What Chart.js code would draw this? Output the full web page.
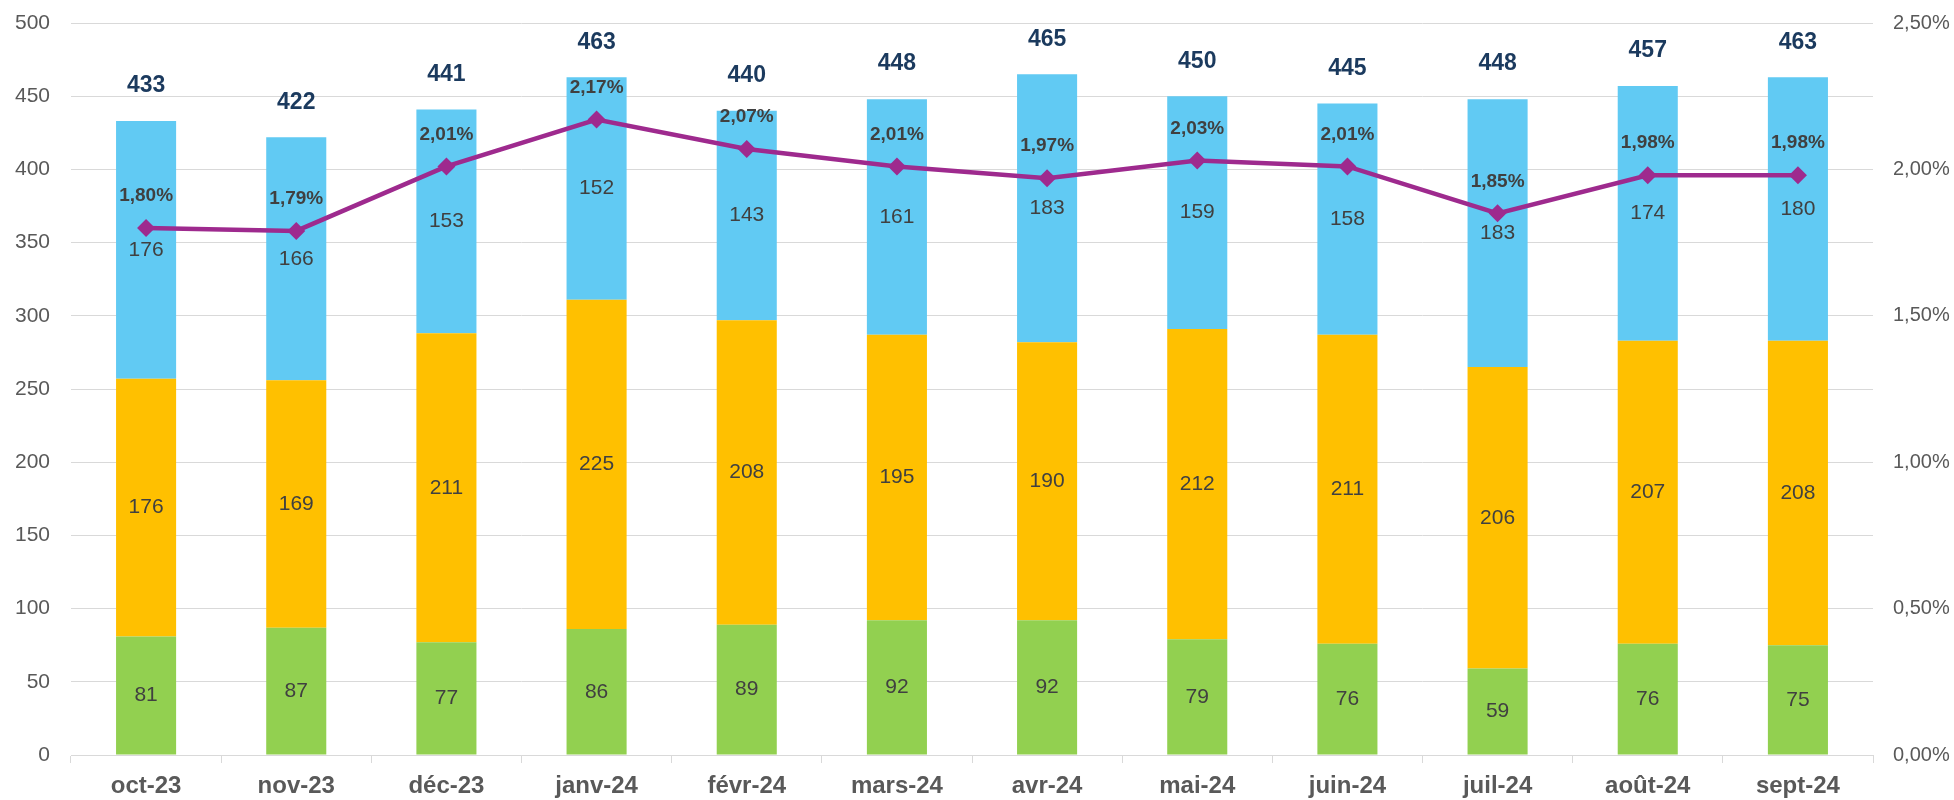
<!DOCTYPE html>
<html>
<head>
<meta charset="utf-8">
<script src="https://cdn.jsdelivr.net/npm/chart.js@4/dist/chart.umd.min.js"></script>
<style>
  body { margin: 0; background: #fff; }
</style>
</head>
<body>
<canvas id="miGrafica" width="1954" height="800"></canvas>
<script>
// Données
const mois = ['oct-23', 'nov-23', 'déc-23', 'janv-24', 'févr-24', 'mars-24', 'avr-24', 'mai-24', 'juin-24', 'juil-24', 'août-24', 'sept-24'];
const serieVerte = [81, 87, 77, 86, 89, 92, 92, 79, 76, 59, 76, 75];
const serieOrange = [176, 169, 211, 225, 208, 195, 190, 212, 211, 206, 207, 208];
const serieBleue = [176, 166, 153, 152, 143, 161, 183, 159, 158, 183, 174, 180];
const totaux = [433, 422, 441, 463, 440, 448, 465, 450, 445, 448, 457, 463];
const taux = [1.80, 1.79, 2.01, 2.17, 2.07, 2.01, 1.97, 2.03, 2.01, 1.85, 1.98, 1.98];

const police = '"Liberation Sans", Arial, sans-serif';
const transparent = 'rgba(0,0,0,0)';

function formatPct(v) {
    return v.toFixed(2).replace('.', ',') + '%';
}

function texte(ctx, str, x, y, font, couleur, align) {
    ctx.save();
    ctx.font = font;
    ctx.fillStyle = couleur;
    ctx.textAlign = align;
    ctx.textBaseline = 'middle';
    ctx.fillText(str, x, y);
    ctx.restore();
}

// Étiquettes de valeurs et libellés d'axes
const etiquettes = {
    id: 'etiquettes',
    afterDatasetsDraw(chart) {
        const ctx = chart.ctx;
        const zone = chart.chartArea;

        // valeurs au milieu de chaque segment
        [0, 1, 2].forEach(i => {
            chart.getDatasetMeta(i).data.forEach((barre, j) => {
                texte(ctx, chart.data.datasets[i].data[j], barre.x, (barre.y + barre.base) / 2,
                    '21px ' + police, '#404040', 'center');
            });
        });

        // totaux au-dessus des barres
        chart.getDatasetMeta(2).data.forEach((barre, j) => {
            texte(ctx, totaux[j], barre.x, barre.y - 35, 'bold 23px ' + police, '#1B3A5E', 'center');
        });

        // pourcentages au-dessus des points
        chart.getDatasetMeta(3).data.forEach((pt, j) => {
            texte(ctx, formatPct(taux[j]), pt.x, pt.y - 32, 'bold 19px ' + police, '#404040', 'center');
        });

        // libellés des axes
        const y = chart.scales.y, y1 = chart.scales.y1, x = chart.scales.x;
        y.ticks.forEach(t => {
            texte(ctx, String(t.value), zone.left - 21, y.getPixelForValue(t.value), '21px ' + police, '#595959', 'right');
        });
        y1.ticks.forEach(t => {
            texte(ctx, formatPct(t.value), zone.right + 20, y1.getPixelForValue(t.value), '20px ' + police, '#595959', 'left');
        });
        mois.forEach((m, i) => {
            texte(ctx, m, x.getPixelForTick(i), zone.bottom + 31, 'bold 24px ' + police, '#595959', 'center');
        });
    }
};

function fixe(s, prop, val) {
    s[prop] = val;
    s.paddingTop = 0;
    s.paddingBottom = 0;
    s.paddingLeft = 0;
    s.paddingRight = 0;
}

const ctx = document.getElementById('miGrafica').getContext('2d');
const miGrafica = new Chart(ctx, {
    type: 'bar',
    data: {
        labels: mois,
        datasets: [
            { label: 'A', data: serieVerte, backgroundColor: '#92D050', yAxisID: 'y', order: 1 },
            { label: 'B', data: serieOrange, backgroundColor: '#FFC000', yAxisID: 'y', order: 1 },
            { label: 'C', data: serieBleue, backgroundColor: '#61CAF3', yAxisID: 'y', order: 1 },
            {
                type: 'line',
                label: 'Taux',
                data: taux,
                yAxisID: 'y1',
                borderColor: '#9E2A8E',
                backgroundColor: '#9E2A8E',
                borderWidth: 4.5,
                pointStyle: 'rectRot',
                pointRadius: 9,
                pointBorderWidth: 0,
                tension: 0,
                order: 0
            }
        ]
    },
    options: {
        responsive: false,
        animation: false,
        layout: { padding: { top: 23 } },
        datasets: {
            bar: { barPercentage: 0.4, categoryPercentage: 1 }
        },
        plugins: {
            legend: { display: false },
            tooltip: { enabled: false }
        },
        scales: {
            x: {
                stacked: true,
                grid: {
                    offset: true,
                    drawOnChartArea: false,
                    color: '#D9D9D9',
                    tickLength: 8
                },
                border: { color: '#D9D9D9' },
                ticks: { color: transparent, font: { family: police, size: 24, weight: 'bold' } },
                afterFit: s => fixe(s, 'height', 45)
            },
            y: {
                stacked: true,
                min: 0,
                max: 500,
                position: 'left',
                grid: { color: '#D9D9D9', drawTicks: false },
                border: { display: false },
                ticks: { stepSize: 50, color: transparent, font: { family: police, size: 21 } },
                afterFit: s => fixe(s, 'width', 71)
            },
            y1: {
                min: 0,
                max: 2.5,
                position: 'right',
                grid: { display: false, drawTicks: false },
                border: { display: false },
                ticks: { stepSize: 0.5, color: transparent, font: { family: police, size: 20 } },
                afterFit: s => fixe(s, 'width', 81)
            }
        }
    },
    plugins: [etiquettes]
});
</script>
</body>
</html>
